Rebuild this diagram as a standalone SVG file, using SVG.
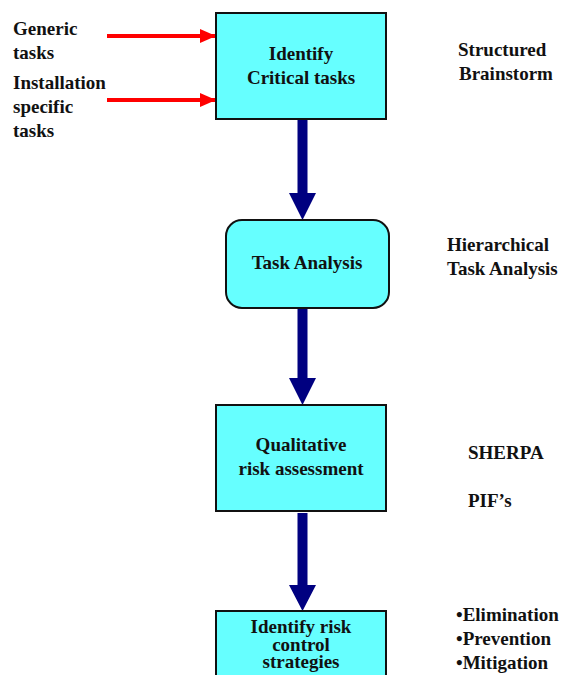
<svg xmlns="http://www.w3.org/2000/svg" width="563" height="675" viewBox="0 0 563 675">
<defs>
<marker id="red" markerUnits="userSpaceOnUse" markerWidth="16" markerHeight="14" refX="16" refY="7" orient="auto"><path d="M0,0 L16,7 L0,14 Z" fill="#ff0000"/></marker>
<style>
text{font-family:"Liberation Serif","Times New Roman",serif;font-weight:bold;font-size:19px;fill:#111}
.c{text-anchor:middle}
.box{fill:#66ffff;stroke:#111;stroke-width:2}
.shaft{fill:#000080}
</style>
</defs>
<g id="connectors">
<line x1="107" y1="36" x2="216" y2="36" stroke="#ff0000" stroke-width="4" marker-end="url(#red)"/>
<line x1="107" y1="100" x2="216" y2="100" stroke="#ff0000" stroke-width="4" marker-end="url(#red)"/>
<path class="shaft" d="M297.5,120 H307.5 V193 H316 L302.5,220 L289,193 H297.5 Z"/>
<path class="shaft" d="M297.5,308 H307.5 V378 H316 L302.5,405 L289,378 H297.5 Z"/>
<path class="shaft" d="M297.5,513 H307.5 V585 H316 L302.5,611 L289,585 H297.5 Z"/>
</g>
<g id="n1"><rect class="box" x="216" y="13" width="170" height="106"/>
<text class="c" x="301" y="60">Identify</text><text class="c" x="301" y="84">Critical tasks</text></g>
<g id="n2"><rect class="box" x="226" y="220" width="163" height="88" rx="16"/>
<text class="c" x="307" y="269">Task Analysis</text></g>
<g id="n3"><rect class="box" x="216" y="405" width="170" height="106"/>
<text class="c" x="301" y="451">Qualitative</text><text class="c" x="301" y="475">risk assessment</text></g>
<g id="n4"><rect class="box" x="216" y="611" width="170" height="80"/>
<text class="c" x="301" y="633">Identify risk</text><text class="c" x="301" y="651">control</text><text class="c" x="301" y="668">strategies</text></g>
<g id="inputs">
<text x="13" y="35">Generic</text><text x="13" y="59">tasks</text>
<text x="13" y="89">Installation</text><text x="13" y="113">specific</text><text x="13" y="137">tasks</text>
</g>
<g id="methods">
<text x="458" y="56">Structured</text><text x="459" y="80">Brainstorm</text>
<text x="447" y="251">Hierarchical</text><text x="447" y="275">Task Analysis</text>
<text x="468" y="459">SHERPA</text><text x="468" y="507">PIF’s</text>
<text x="456" y="621">•Elimination</text><text x="456" y="645">•Prevention</text><text x="456" y="669">•Mitigation</text>
</g>
</svg>
